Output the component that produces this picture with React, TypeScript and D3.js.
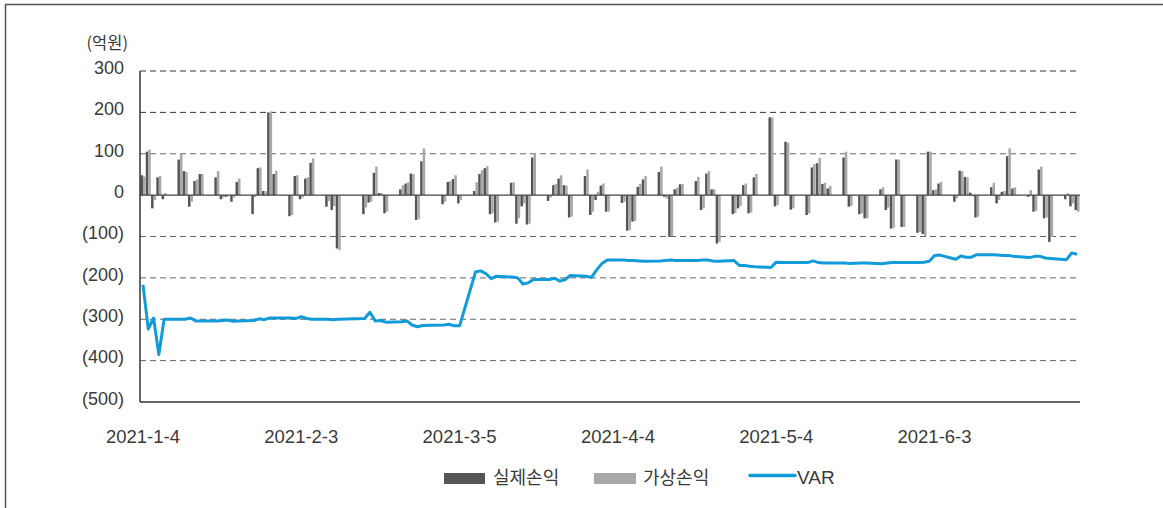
import React from "react";
import * as d3 from "d3";

const dates = [
  "2021-01-04","2021-01-05","2021-01-06","2021-01-07","2021-01-08",
  "2021-01-11","2021-01-12","2021-01-13","2021-01-14","2021-01-15",
  "2021-01-18","2021-01-19","2021-01-20","2021-01-21","2021-01-22",
  "2021-01-25","2021-01-26","2021-01-27","2021-01-28","2021-01-29",
  "2021-02-01","2021-02-02","2021-02-03","2021-02-04","2021-02-05",
  "2021-02-08","2021-02-09","2021-02-10",
  "2021-02-15","2021-02-16","2021-02-17","2021-02-18","2021-02-19",
  "2021-02-22","2021-02-23","2021-02-24","2021-02-25","2021-02-26",
  "2021-03-02","2021-03-03","2021-03-04","2021-03-05",
  "2021-03-08","2021-03-09","2021-03-10","2021-03-11","2021-03-12",
  "2021-03-15","2021-03-16","2021-03-17","2021-03-18","2021-03-19",
  "2021-03-22","2021-03-23","2021-03-24","2021-03-25","2021-03-26",
  "2021-03-29","2021-03-30","2021-03-31","2021-04-01","2021-04-02",
  "2021-04-05","2021-04-06","2021-04-07","2021-04-08","2021-04-09",
  "2021-04-12","2021-04-13","2021-04-14","2021-04-15","2021-04-16",
  "2021-04-19","2021-04-20","2021-04-21","2021-04-22","2021-04-23",
  "2021-04-26","2021-04-27","2021-04-28","2021-04-29","2021-04-30",
  "2021-05-03","2021-05-04","2021-05-06","2021-05-07",
  "2021-05-10","2021-05-11","2021-05-12","2021-05-13","2021-05-14",
  "2021-05-17","2021-05-18","2021-05-20","2021-05-21",
  "2021-05-24","2021-05-25","2021-05-26","2021-05-27","2021-05-28",
  "2021-05-31","2021-06-01","2021-06-02","2021-06-03","2021-06-04",
  "2021-06-07","2021-06-08","2021-06-09","2021-06-10","2021-06-11",
  "2021-06-14","2021-06-15","2021-06-16","2021-06-17","2021-06-18",
  "2021-06-21","2021-06-22","2021-06-23","2021-06-24","2021-06-25",
  "2021-06-28","2021-06-29","2021-06-30",
];

// 실제손익
const actualPL = [
  48,105,-32,43,-10,
  86,58,-28,34,51,
  43,-10,-4,-16,32,
  -46,65,10,200,51,
  -51,46,-10,40,78,
  -28,-36,-129,
  -46,-18,54,5,-44,
  14,28,52,-60,82,
  -22,32,39,-20,
  10,51,65,-46,-66,
  30,-69,-27,-71,91,
  -14,24,40,24,-54,
  46,-48,-12,23,-40,
  -19,-86,-64,20,38,
  56,-4,-101,14,26,
  34,-36,52,14,-117,
  -46,-32,24,-44,43,
  188,-27,129,-35,
  -48,67,77,27,16,
  91,-28,-46,-56,
  14,-36,-81,86,-77,
  -91,-94,105,12,28,
  -16,59,44,6,-54,
  19,-20,8,94,16,
  -4,-40,62,-56,-113,
  -10,-27,-36,
];

// 가상손익
const hypotheticalPL = [
  45,110,-12,46,5,
  100,56,-16,38,51,
  58,-6,-2,-6,40,
  -5,67,10,202,59,
  -48,48,-6,43,89,
  -14,-27,-133,
  -30,-16,69,5,-40,
  24,31,51,-58,113,
  -16,34,48,-12,
  31,60,70,-44,-64,
  31,-56,-20,-69,101,
  -6,27,48,23,-52,
  62,-40,8,28,-40,
  -16,-84,-62,27,46,
  69,-8,-99,18,27,
  44,-32,58,14,-113,
  -43,-26,28,-42,51,
  188,-24,127,-32,
  -44,75,90,30,22,
  105,-26,-44,-56,
  19,-30,-79,86,-77,
  -89,-99,105,14,32,
  -8,58,43,-3,-52,
  30,-12,10,113,19,
  12,-38,69,-54,-101,
  5,-20,-40,
];

const varValues = [
  -217,-324,-297,-385,-300,
  -300,-300,-297,-304,-304,
  -304,-303,-302,-305,-304,
  -303,-299,-301,-297,-297,
  -297,-298,-294,-298,-300,
  -300,-301,-300,
  -298,-283,-304,-303,-307,
  -306,-304,-314,-318,-315,
  -314,-312,-316,-316,
  -186,-183,-190,-202,-196,
  -198,-200,-215,-212,-204,
  -204,-201,-208,-204,-194,
  -196,-199,-180,-165,-157,
  -157,-158,-158,-159,-160,
  -159,-158,-157,-158,-158,
  -158,-157,-157,-159,-160,
  -158,-170,-170,-172,-173,
  -175,-162,-163,-163,
  -163,-159,-163,-164,-164,
  -164,-165,-164,-164,
  -166,-164,-163,-163,-163,
  -163,-162,-160,-146,-145,
  -155,-147,-150,-150,-144,
  -144,-145,-146,-146,-148,
  -151,-148,-148,-152,-153,
  -156,-140,-143,
];

const yTicks = [300, 200, 100, 0, -100, -200, -300, -400, -500];
const xTickLabels = ["2021-1-4", "2021-2-3", "2021-3-5", "2021-4-4", "2021-5-4", "2021-6-3"];
const xTickDates = ["2021-01-04", "2021-02-03", "2021-03-05", "2021-04-04", "2021-05-04", "2021-06-03"];
const legendLabels = ["실제손익", "가상손익", "VAR"];
const unitLabel = "(억원)";

const COLORS = { actual: "#555555", hypo: "#a8a8aa", var: "#119bd8", text: "#3a3a3a" };
const FONT = "'Liberation Sans', Arial, sans-serif";
const KFONT = "'Noto Sans CJK KR', 'Liberation Sans', sans-serif";

export default function App() {
  const W = 1163, H = 508;
  const parse = d3.timeParse("%Y-%m-%d");
  const x = d3.scaleTime()
    .domain([parse("2021-01-04")!, parse("2021-06-30")!])
    .range([143, 1077]);
  const y = d3.scaleLinear().domain([-500, 300]).range([402, 71]);
  const left = 140, right = 1080;

  const fmt = (v: number) => (v < 0 ? `(${Math.abs(v)})` : `${v}`);
  const rows = dates.map((d, i) => ({
    date: parse(d)!,
    a: actualPL[i],
    h: hypotheticalPL[i],
    v: varValues[i],
  }));
  const line = d3.line<any>().x((r) => x(r.date)).y((r) => y(r.v)).curve(d3.curveLinear);

  const bw = 2.5;
  return (
    <svg width={W} height={H} style={{ position: "absolute", left: 0, top: 0, background: "#fff" }}>
      {/* frame */}
      <line x1={5} x2={W} y1={4.5} y2={4.5} stroke="#555" strokeWidth={1.5} />
      <line x1={5.5} x2={5.5} y1={4} y2={H} stroke="#555" strokeWidth={1.5} />

      {/* gridlines */}
      {yTicks.filter((t) => t !== 0 && t !== -500).map((t) => (
        <line key={t} x1={left} x2={right} y1={y(t)} y2={y(t)} stroke={t >= 200 ? "#333" : "#666"}
          strokeWidth={1} strokeDasharray="6,4" />
      ))}

      {/* bars */}
      {rows.map((r, i) => {
        const cx = x(r.date);
        return (
          <g key={i}>
            <rect x={cx - bw} y={Math.min(y(r.a), y(0))} width={bw}
              height={Math.abs(y(r.a) - y(0))} fill={COLORS.actual} />
            <rect x={cx} y={Math.min(y(r.h), y(0))} width={bw}
              height={Math.abs(y(r.h) - y(0))} fill={COLORS.hypo} />
          </g>
        );
      })}

      {/* zero line */}
      <line x1={left} x2={right} y1={y(0)} y2={y(0)} stroke="#444" strokeWidth={1.2} />
      {/* axes */}
      <line x1={left} x2={left} y1={y(300)} y2={y(-500)} stroke="#333" strokeWidth={1.5} />
      <line x1={left} x2={right} y1={y(-500)} y2={y(-500)} stroke="#333" strokeWidth={1.5} />

      {/* VAR line */}
      <path d={line(rows) || ""} fill="none" stroke={COLORS.var} strokeWidth={3} strokeLinejoin="round" />

      {/* y tick labels */}
      {yTicks.map((t) => (
        <text key={t} x={124} y={y(t) - 2} textAnchor="end" dominantBaseline="middle"
          fontFamily={FONT} fontSize={18} fill={COLORS.text}>{fmt(t)}</text>
      ))}
      <text x={128} y={45} textAnchor="end" dominantBaseline="middle" fontFamily={KFONT}
        fontSize={16.5} fill={COLORS.text}>{unitLabel}</text>

      {/* x tick labels */}
      {xTickDates.map((d, i) => (
        <text key={d} x={x(parse(d)!)} y={443} textAnchor="middle" fontFamily={FONT}
          fontSize={18.5} fill={COLORS.text}>{xTickLabels[i]}</text>
      ))}

      {/* legend */}
      <rect x={444} y={473} width={41} height={11} fill={COLORS.actual} />
      <text x={493} y={479} dominantBaseline="middle" fontFamily={KFONT} fontSize={18} fill={COLORS.text}>{legendLabels[0]}</text>
      <rect x={594} y={473} width={42} height={11} fill={COLORS.hypo} />
      <text x={643} y={479} dominantBaseline="middle" fontFamily={KFONT} fontSize={18} fill={COLORS.text}>{legendLabels[1]}</text>
      <line x1={750} x2={795} y1={475.5} y2={475.5} stroke={COLORS.var} strokeWidth={3.5} strokeLinecap="round" />
      <text x={797} y={479} dominantBaseline="middle" fontFamily={FONT} fontSize={19} fill={COLORS.text}>{legendLabels[2]}</text>
    </svg>
  );
}
